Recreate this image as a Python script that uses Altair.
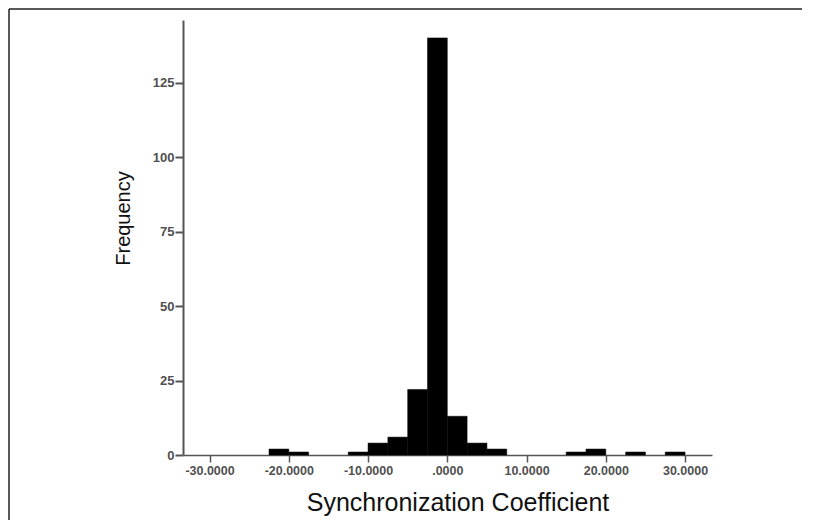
import altair as alt
import pandas as pd

# Histogram of synchronization coefficients (bin width 2.5)
bin_start = [-22.5, -20.0, -12.5, -10.0, -7.5, -5.0, -2.5, 0.0, 2.5, 5.0, 15.0, 17.5, 22.5, 27.5]
counts = [2, 1, 1, 4, 6, 22, 140, 13, 4, 2, 1, 2, 1, 1]
bin_width = 2.5
x_ticks = [-30, -20, -10, 0, 10, 20, 30]
y_ticks = [0, 25, 50, 75, 100, 125]

df = pd.DataFrame({
    "start": bin_start,
    "end": [s + bin_width for s in bin_start],
    "count": counts,
})

W, H = 529, 435
PAD_L, PAD_T, PAD_R, PAD_B = 175, 12, 90, 65

label_expr = "datum.value == 0 ? '.0000' : (datum.value < 0 ? '-' : '') + format(abs(datum.value), '.4f')"

bars = alt.Chart(df).mark_bar(color="black", stroke="black", strokeWidth=0.5).encode(
    x=alt.X(
        "start:Q",
        scale=alt.Scale(domain=[-33.35, 33.4], nice=False, zero=False),
        axis=alt.Axis(
            title="Synchronization Coefficient",
            values=x_ticks,
            labelExpr=label_expr,
            grid=False,
            domainColor="#555555",
            domainWidth=1.5,
            tickColor="#555555",
            tickWidth=1.5,
            tickSize=7,
            labelPadding=2,
            labelFont="Liberation Sans",
            labelFontWeight="bold",
            labelFontSize=12.5,
            labelColor="#505050",
            titleFont="Liberation Sans",
            titleFontWeight="normal",
            titleFontSize=25,
            titleColor="#111111",
            titleX=274.5,
            titleY=55,
            titleBaseline="alphabetic",
        ),
    ),
    x2="end:Q",
    y=alt.Y(
        "count:Q",
        scale=alt.Scale(domain=[0, 146], nice=False),
        axis=alt.Axis(
            title="Frequency",
            values=y_ticks,
            grid=False,
            domainColor="#555555",
            domainWidth=2,
            tickColor="#555555",
            tickWidth=2,
            tickSize=8,
            labelPadding=1,
            labelFont="Liberation Sans",
            labelFontWeight="bold",
            labelFontSize=13,
            labelColor="#505050",
            titleFont="Liberation Sans",
            titleFontWeight="normal",
            titleFontSize=20,
            titleColor="#111111",
            titleX=-50,
            titleY=198,
            titleAngle=-90,
            titleBaseline="bottom",
        ),
    ),
    y2=alt.datum(0),
)

frame_df = pd.DataFrame({"k": [0]})
frame_left = alt.Chart(frame_df).mark_rule(color="#222222", strokeWidth=1.5).encode(
    x=alt.value(-PAD_L + 1), y=alt.value(-PAD_T + 1), y2=alt.value(H + PAD_B)
)
frame_top = alt.Chart(frame_df).mark_rule(color="#222222", strokeWidth=1.5).encode(
    x=alt.value(-PAD_L + 1), x2=alt.value(W + PAD_R), y=alt.value(-PAD_T + 1)
)

chart = alt.layer(bars, frame_left, frame_top).properties(
    width=W,
    height=H,
    padding={"left": PAD_L, "top": PAD_T, "right": PAD_R, "bottom": PAD_B},
    autosize=alt.AutoSizeParams(type="none"),
    background="white",
).configure_view(stroke=None)

chart.save("out.html", embed_options={"renderer": "svg", "actions": False})
